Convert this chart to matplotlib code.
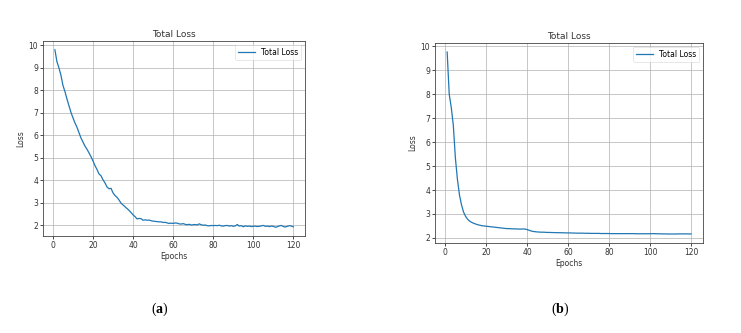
import matplotlib
matplotlib.use("Agg")
import matplotlib.pyplot as plt

# loss per epoch
epochs = list(range(1, 121))

loss_a = [
    9.80, 9.28, 9.00, 8.68, 8.22, 7.95, 7.62, 7.32, 7.02, 6.78,
    6.55, 6.36, 6.12, 5.88, 5.70, 5.52, 5.38, 5.22, 5.05, 4.86,
    4.65, 4.48, 4.28, 4.20, 4.02, 3.88, 3.70, 3.62, 3.64, 3.44,
    3.32, 3.24, 3.12, 2.98, 2.90, 2.82, 2.74, 2.66, 2.56, 2.46,
    2.38, 2.28, 2.30, 2.29, 2.22, 2.24, 2.22, 2.23, 2.20, 2.18,
    2.17, 2.16, 2.15, 2.15, 2.12, 2.13, 2.10, 2.08, 2.09, 2.08,
    2.10, 2.09, 2.06, 2.05, 2.07, 2.04, 2.02, 2.04, 2.01, 2.02,
    2.03, 2.01, 2.06, 2.02, 2.00, 2.01, 1.98, 1.97, 1.99, 1.98,
    1.99, 1.98, 2.00, 1.97, 1.96, 1.98, 1.99, 1.96, 1.98, 1.95,
    1.97, 2.03, 1.96, 1.98, 1.93, 1.97, 1.95, 1.96, 1.94, 1.95,
    1.96, 1.94, 1.95, 1.97, 1.99, 1.95, 1.96, 1.94, 1.96, 1.95,
    1.91, 1.93, 1.97, 1.99, 1.94, 1.92, 1.95, 1.98, 1.96, 1.93,
]

loss_b = [
    9.76, 8.00, 7.45, 6.70, 5.35, 4.45, 3.80, 3.38, 3.08, 2.90,
    2.78, 2.70, 2.65, 2.61, 2.58, 2.55, 2.53, 2.51, 2.50, 2.49,
    2.48, 2.47, 2.46, 2.45, 2.44, 2.43, 2.42, 2.41, 2.40, 2.39,
    2.39, 2.385, 2.38, 2.38, 2.375, 2.37, 2.37, 2.375, 2.37, 2.35,
    2.32, 2.29, 2.27, 2.26, 2.25, 2.245, 2.24, 2.24, 2.235, 2.23,
    2.23, 2.225, 2.225, 2.22, 2.22, 2.22, 2.215, 2.215, 2.21, 2.21,
    2.21, 2.205, 2.205, 2.20, 2.20, 2.20, 2.20, 2.195, 2.195, 2.195,
    2.19, 2.19, 2.19, 2.19, 2.19, 2.185, 2.185, 2.185, 2.185, 2.185,
    2.18, 2.18, 2.18, 2.18, 2.18, 2.18, 2.18, 2.18, 2.18, 2.18,
    2.18, 2.18, 2.175, 2.175, 2.175, 2.175, 2.175, 2.175, 2.175, 2.175,
    2.18, 2.18, 2.175, 2.175, 2.17, 2.17, 2.17, 2.165, 2.165, 2.165,
    2.165, 2.165, 2.165, 2.17, 2.17, 2.17, 2.17, 2.17, 2.165, 2.17,
]

panels = [(loss_a, "a"), (loss_b, "b")]
axes_pos = [[0.058, 0.291, 0.354, 0.586], [0.587, 0.270, 0.362, 0.601]]
label_x = [0.216, 0.756]

plt.rcParams["mathtext.fontset"] = "custom"
plt.rcParams["mathtext.rm"] = "Liberation Serif"
plt.rcParams["mathtext.bf"] = "Liberation Serif:bold"

fig = plt.figure(figsize=(7.41, 3.33), dpi=100)
fs = 5.5

for (loss, tag), pos, lx in zip(panels, axes_pos, label_x):
    ax = fig.add_axes(pos)
    ax.plot(epochs, loss, color="#1f77b4", lw=0.9, label="Total Loss")
    ax.set_title("Total Loss", fontsize=6.5, pad=3, color="#333333")
    ax.set_xlabel("Epochs", fontsize=fs, labelpad=1.5, color="#333333")
    ax.set_ylabel("Loss", fontsize=fs, labelpad=2, color="#333333")
    ax.set_xticks([0, 20, 40, 60, 80, 100, 120])
    ax.set_yticks(range(2, 11))
    ax.tick_params(labelsize=fs, length=2, width=0.5, pad=1.5, labelcolor="#333333")
    ax.grid(True, color="#b0b0b0", lw=0.5)
    for s in ax.spines.values():
        s.set_linewidth(0.6)
        s.set_color("#444444")
    leg = ax.legend(loc="upper right", fontsize=fs, handlelength=2.2,
                    borderpad=0.4, framealpha=0.8)
    leg.get_frame().set_linewidth(0.4)
    fig.text(lx, 0.072, r"$\mathrm{(}\mathbf{%s}\mathrm{)}$" % tag,
             fontsize=10, ha="center", va="center")

fig.savefig("out.png", dpi=100)
